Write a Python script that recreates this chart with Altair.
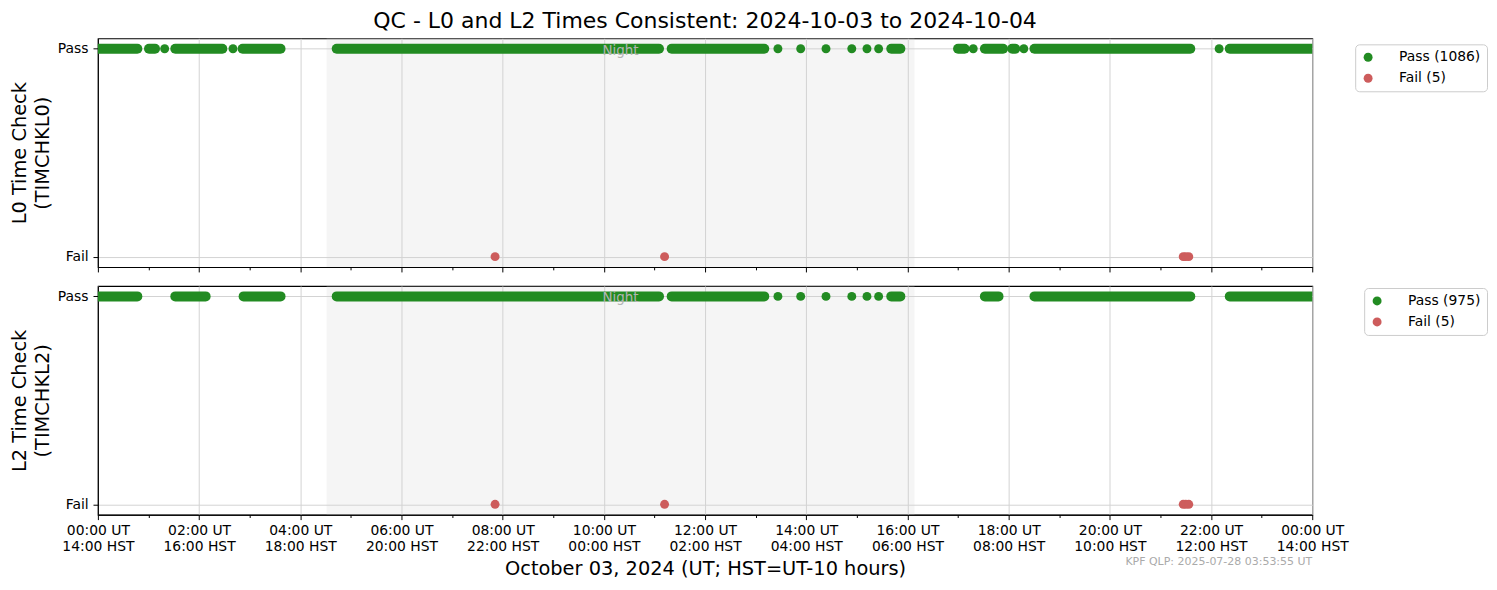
import altair as alt
import pandas as pd

TITLE = "QC - L0 and L2 Times Consistent: 2024-10-03 to 2024-10-04"
X_TITLE = "October 03, 2024 (UT; HST=UT-10 hours)"
CREDIT = "KPF QLP: 2025-07-28 03:53:55 UT"
NIGHT_LABEL = "Night"

# night interval (UT hours)
night_start = [4.52]
night_end = [16.14]

# L0: dense runs of observations (UT hours), isolated passes, fails, legend counts
l0_run_start = [0.00, 1.01, 1.53, 2.86, 4.72, 11.34, 15.68, 17.00, 17.53, 18.07, 18.51, 22.37]
l0_run_end = [0.78, 1.13, 2.46, 3.61, 11.09, 13.17, 15.86, 17.13, 17.89, 18.13, 21.59, 24.00]
l0_pass_single = [1.32, 2.67, 13.44, 13.89, 14.39, 14.90, 15.20, 15.43, 17.30, 18.30, 22.16]
l0_fail = [7.85, 11.20, 21.45, 21.50, 21.56]
l0_counts = [1086, 5]

# L2
l2_run_start = [0.00, 1.53, 2.88, 4.72, 11.34, 15.68, 17.53, 18.51, 22.37]
l2_run_end = [0.78, 2.13, 3.61, 11.09, 13.17, 15.86, 17.80, 21.59, 24.00]
l2_pass_single = [13.44, 13.89, 14.39, 14.90, 15.20, 15.43]
l2_fail = [7.85, 11.20, 21.45, 21.50, 21.56]
l2_counts = [975, 5]

hour_ticks = list(range(0, 25))

W, H = 1216, 229
GREEN = "#228B22"
RED = "#CD5C5C"
GRID = "#d3d3d3"
EVEN = "datum.value % 2 == 0"

X_LABEL_EXPR = (
    "datum.value % 2 == 0 ? ["
    "(datum.value % 24 < 10 ? '0' : '') + (datum.value % 24) + ':00 UT', "
    "((datum.value + 14) % 24 < 10 ? '0' : '') + ((datum.value + 14) % 24) + ':00 HST'"
    "] : ''"
)


def panel(run_s, run_e, singles, fails, counts, ytitle, bottom, lx, ly, title=None):
    pass_lab = f"Pass ({counts[0]})"
    fail_lab = f"Fail ({counts[1]})"
    runs = pd.DataFrame({"start": run_s, "end": run_e, "val": [1] * len(run_s)})
    pts = pd.DataFrame({
        "hour": singles + fails,
        "val": [1] * len(singles) + [0] * len(fails),
        "status": [pass_lab] * len(singles) + [fail_lab] * len(fails),
    })
    night = pd.DataFrame({"start": night_start, "end": night_end, "label": [NIGHT_LABEL]})

    xscale = alt.Scale(domain=[0, 24], nice=False, zero=False)
    yscale = alt.Scale(domain=[-0.05, 1.05], nice=False, zero=False)
    xaxis = alt.Axis(
        values=hour_ticks,
        labelExpr=X_LABEL_EXPR,
        labels=bottom,
        title=X_TITLE if bottom else None,
        tickSize={"condition": {"test": EVEN, "value": 4.9}, "value": 2.8},
        tickColor="black",
        tickWidth=1,
        domainColor="black",
        domainWidth=1.1,
        labelFontSize=13.9,
        labelColor="black",
        labelPadding=4,
        labelLineHeight=16.2,
        labelOverlap=False,
        labelFlush=False,
        labelBound=False,
        grid=True,
        gridColor=GRID,
        gridOpacity={"condition": {"test": EVEN, "value": 1}, "value": 0},
        titleFontSize=19.4,
        titleFontWeight="normal",
        titleColor="black",
        titlePadding=6,
    )
    yaxis = alt.Axis(
        values=[0, 1],
        labelExpr="datum.value == 1 ? 'Pass' : 'Fail'",
        tickSize=4.9,
        tickColor="black",
        domainColor="black",
        domainWidth=1.1,
        labelFontSize=13.9,
        labelColor="black",
        labelPadding=4.9,
        grid=True,
        gridColor=GRID,
        title=ytitle,
        titleFontSize=19.4,
        titleFontWeight="normal",
        titleColor="black",
        titleLineHeight=23.3,
        titlePadding=5,
    )

    def X(f):
        return alt.X(f, scale=xscale, axis=xaxis)

    def Y(f):
        return alt.Y(f, scale=yscale, axis=yaxis)

    rect = alt.Chart(night).mark_rect(color="#d3d3d3", opacity=0.22).encode(
        x=X("start:Q"), x2="end:Q"
    )
    rules = alt.Chart(runs).mark_rule(
        color=GREEN, strokeWidth=10, strokeCap="round", clip=True
    ).encode(x=X("start:Q"), x2="end:Q", y=Y("val:Q"))
    dots = alt.Chart(pts).mark_circle(size=80, opacity=1, clip=True).encode(
        x=X("hour:Q"),
        y=Y("val:Q"),
        color=alt.Color(
            "status:N",
            scale=alt.Scale(domain=[pass_lab, fail_lab], range=[GREEN, RED]),
            legend=alt.Legend(
                title=None,
                orient="none",
                legendX=lx,
                legendY=ly,
                symbolType="circle",
                symbolSize=80,
                symbolStrokeWidth=0,
                labelFontSize=13.9,
                labelColor="black",
                labelOffset=24,
                rowPadding=6,
                padding=6,
                strokeColor="#cccccc",
                fillColor="white",
                cornerRadius=4,
            ),
        ),
    )
    ntext = alt.Chart(night).transform_calculate(
        mid="(datum.start + datum.end) / 2"
    ).mark_text(fontSize=13.5, color="#b4b4b4", baseline="middle", dy=2).encode(
        x=X("mid:Q"), y=alt.datum(1), text="label:N"
    )
    layers = [rect, rules, dots, ntext]
    if bottom:
        credit = alt.Chart(pd.DataFrame({"t": [CREDIT]})).mark_text(
            align="right", baseline="middle", fontSize=11, color="#aaaaaa"
        ).encode(x=alt.datum(24), y=alt.value(276), text="t:N")
        layers.append(credit)
    props = dict(width=W, height=H)
    if title is not None:
        props["title"] = alt.TitleParams(
            title, fontSize=22, fontWeight="normal", anchor="middle",
            frame="group", color="black", offset=5,
        )
    return alt.layer(*layers).properties(**props)


top = panel(l0_run_start, l0_run_end, l0_pass_single, l0_fail, l0_counts,
            ["L0 Time Check", "(TIMCHKL0)"], False, 1259, 6, title=TITLE)
bot = panel(l2_run_start, l2_run_end, l2_pass_single, l2_fail, l2_counts,
            ["L2 Time Check", "(TIMCHKL2)"], True, 1268, 2)

chart = alt.vconcat(top, bot, spacing=12).resolve_scale(
    color="independent"
).properties(
    padding={"left": 0, "top": 1, "right": 0, "bottom": 0}
).configure(font="DejaVu Sans").configure_view(stroke="black", strokeWidth=1.1)

chart.save("out.html", embed_options={"renderer": "svg", "actions": False})
